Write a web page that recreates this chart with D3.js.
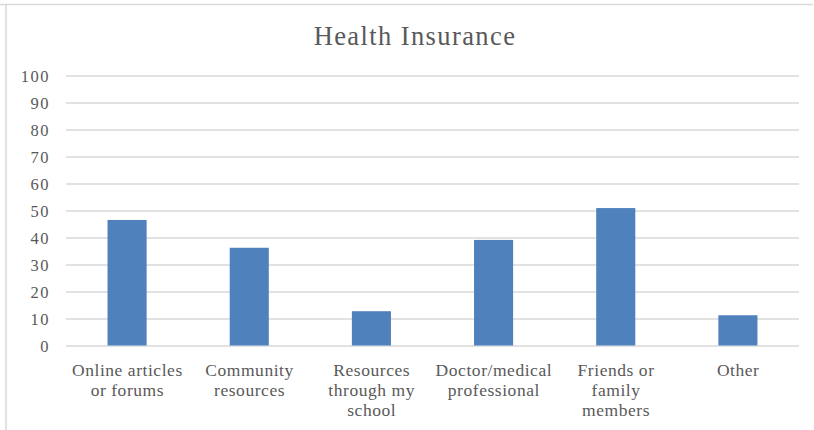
<!DOCTYPE html>
<html>
<head>
<meta charset="utf-8">
<script src="https://cdn.jsdelivr.net/npm/d3@7"></script>
<style>
  html, body { margin: 0; padding: 0; background: #fff; }
  svg text { font-family: "Liberation Serif", serif; fill: #595959; }
</style>
</head>
<body>
<svg id="chart" width="814" height="430"></svg>
<script>
const title = "Health Insurance";
const categories = [
  ["Online articles", "or forums"],
  ["Community", "resources"],
  ["Resources", "through my", "school"],
  ["Doctor/medical", "professional"],
  ["Friends or", "family", "members"],
  ["Other"]
];
const values = [46.5, 36.2, 12.7, 39.1, 50.9, 11.2];
const yTicks = [0, 10, 20, 30, 40, 50, 60, 70, 80, 90, 100];

const svg = d3.select("#chart");
const margin = { left: 66, right: 15, top: 75.5, bottom: 84.5 };
const W = 814, H = 430;

// outer border (chart area frame)
svg.append("line").attr("x1", 0).attr("x2", 813).attr("y1", 4.5).attr("y2", 4.5)
  .attr("stroke", "#d9d9d9").attr("stroke-width", 1.5);
svg.append("line").attr("x1", 6).attr("x2", 6).attr("y1", 4).attr("y2", 430)
  .attr("stroke", "#d9d9d9").attr("stroke-width", 1.5);

const x = d3.scaleBand()
  .domain(d3.range(categories.length))
  .range([margin.left, W - margin.right])
  .paddingInner(0.68).paddingOuter(0.34);

const y = d3.scaleLinear().domain([0, 100]).range([H - margin.bottom, margin.top]);

// gridlines
const grid = svg.append("g")
  .attr("transform", `translate(${margin.left},0)`)
  .call(d3.axisLeft(y).tickValues(yTicks).tickSize(-(W - margin.right - margin.left)).tickFormat(""));
grid.select(".domain").remove();
grid.selectAll("line").attr("stroke", "#d9d9d9").attr("stroke-width", 1.3);

// y tick labels
const yAxis = svg.append("g")
  .attr("transform", `translate(${margin.left},0)`)
  .call(d3.axisLeft(y).tickValues(yTicks).tickSize(0).tickPadding(16));
yAxis.select(".domain").remove();
yAxis.selectAll("text")
  .attr("dy", "0.35em")
  .style("font-size", "16.5px").style("letter-spacing", "1.5px").style("fill", "#595959")
  .style("font-family", "'Liberation Serif', serif");

// bars
svg.append("g").selectAll("rect")
  .data(values)
  .join("rect")
  .attr("x", (d, i) => x(i))
  .attr("width", x.bandwidth())
  .attr("y", d => y(d))
  .attr("height", d => y(0) - y(d))
  .attr("fill", "#4f81bd");

// x labels
const xl = svg.append("g");
categories.forEach((lines, i) => {
  const cx = x(i) + x.bandwidth() / 2;
  const t = xl.append("text")
    .attr("text-anchor", "middle")
    .attr("x", cx)
    .attr("y", 375.5)
    .style("font-size", "17.5px")
    .style("letter-spacing", "0.55px");
  lines.forEach((ln, j) => {
    t.append("tspan").attr("x", cx + 0.3).attr("dy", j === 0 ? 0 : 20).text(ln);
  });
});

// title
svg.append("text")
  .attr("x", 415).attr("y", 44.5)
  .attr("text-anchor", "middle")
  .style("font-size", "26.5px")
  .style("letter-spacing", "1.4px")
  .text(title);
</script>
</body>
</html>
